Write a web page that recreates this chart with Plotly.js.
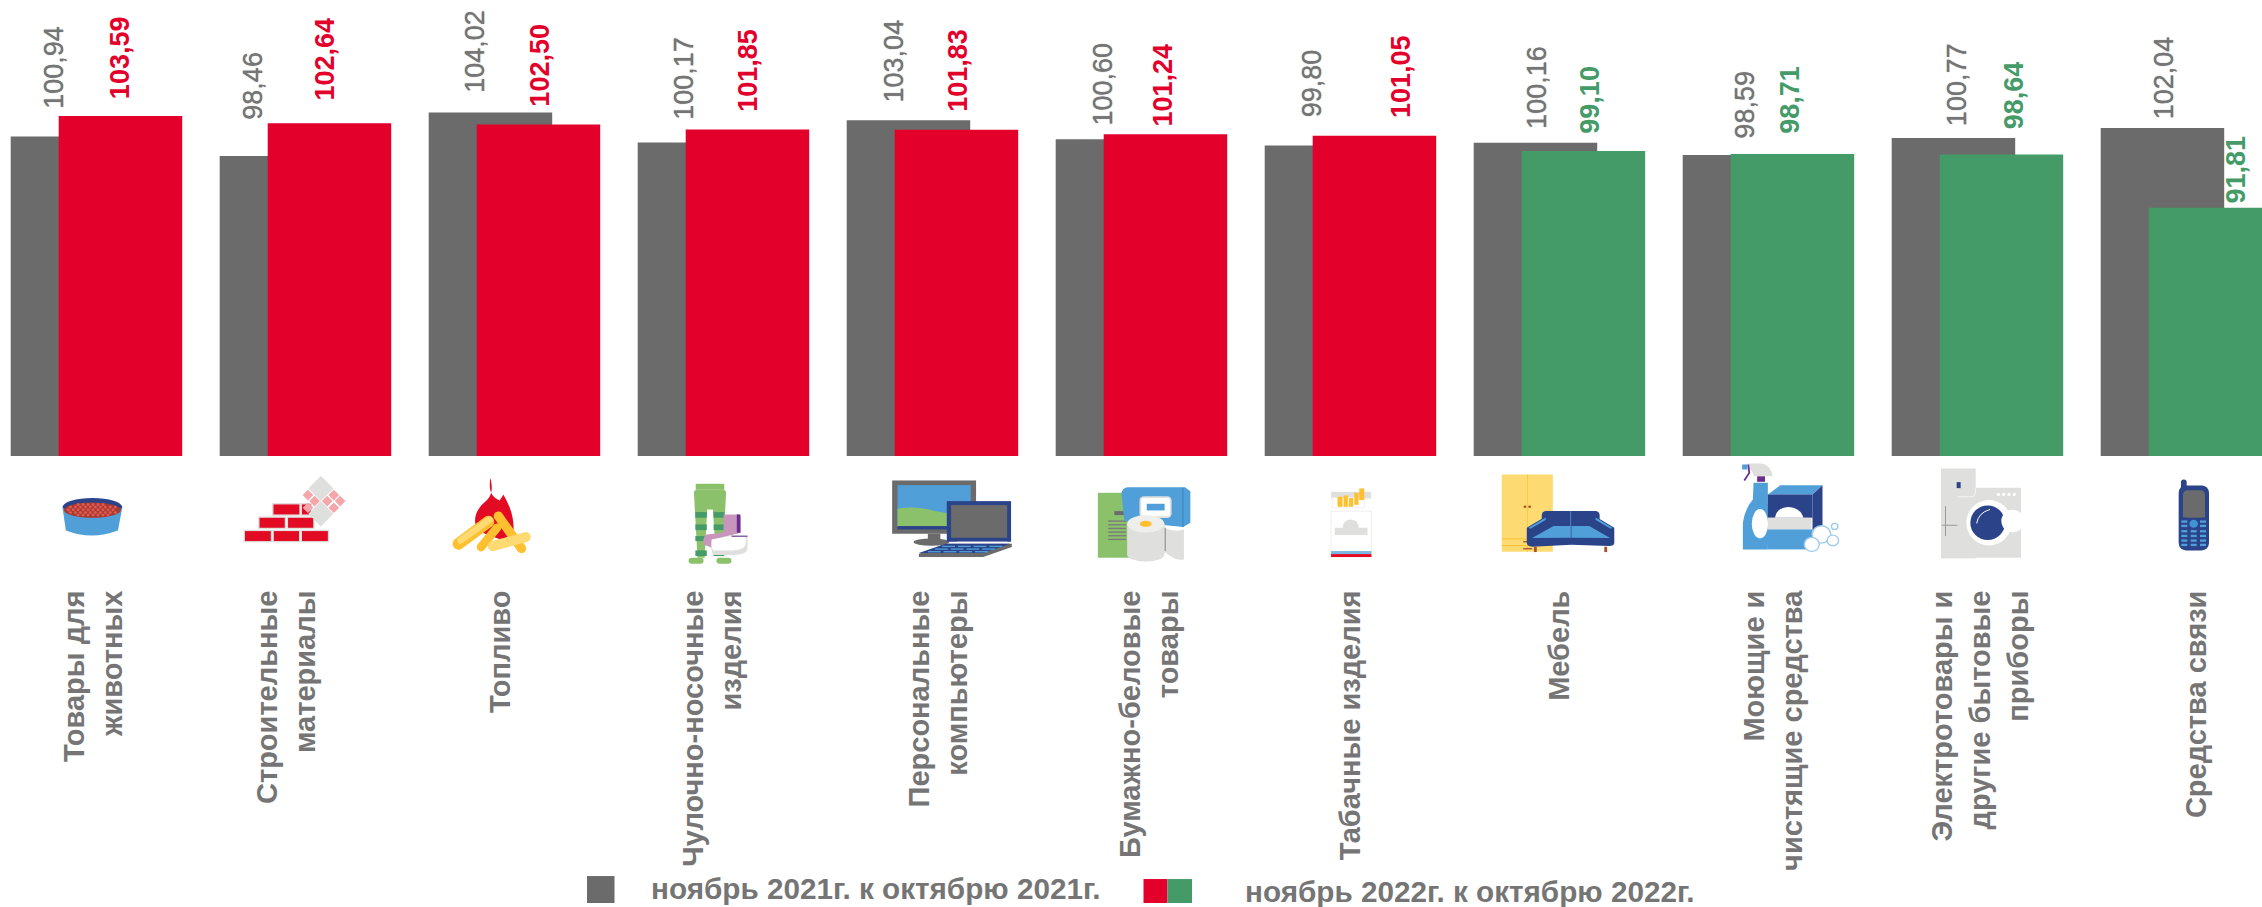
<!DOCTYPE html>
<html><head><meta charset="utf-8">
<script src="https://cdn.plot.ly/plotly-3.0.1.min.js"></script>
<style>html,body{margin:0;padding:0;background:#fff}#c{width:2262px;height:907px}</style>
</head><body><div id="c"></div>
<script>
const categories = ["Товары для<br>животных","Строительные<br>материалы","Топливо","Чулочно-носочные<br>изделия","Персональные<br>компьютеры","Бумажно-беловые<br>товары","Табачные изделия","Мебель","Моющие и<br>чистящие средства","Электротовары и<br>другие бытовые<br>приборы","Средства связи"];
const values2021 = [100.94,98.46,104.02,100.17,103.04,100.60,99.80,100.16,98.59,100.77,102.04];
const values2022 = [103.59,102.64,102.50,101.85,101.83,101.24,101.05,99.10,98.71,98.64,91.81];
const legendGray = "ноябрь 2021г. к октябрю 2021г.";
const legendColor = "ноябрь 2022г. к октябрю 2022г.";

const GRAY='#6b6b6b', RED='#e3002b', GREEN='#459b68', TXT='#757575';
const BLUE='#519fd9', NAVY='#2a4389', LG='#8bc16b', DG='#459b68', SILV='#dfdfdd', YEL='#fec02e', LY='#fddb72', PUR='#6b2d90', PINK='#c896bc';
const W=2262,H=907,BASE=456.5,PITCH=209,CX0=96.7,BARW=123.5;
const xIdx = categories.map((_,i)=>i);
const up = v => v>100;
const colored = values2022.map(v=>up(v)?RED:GREEN);
const fmt = v => v.toFixed(2).replace('.',',');

// label placement (px relative to category centre / bar top)
const grayDx=[-43,-53,-40,-40,-39,-39,-39,-23,-24,-20,-23];
const grayLift=[27,35,19,22,17,13,27,13,15,11,8];
const colDx=[24,19,25,24,25,21,51,30,21,36,49];
const colLift=[16,22,17,17,17,7,17,16,19,24,3];
const catLabelDx=[-3,-19,-14,-11,6,8,0,0,5,3,10];

const traces=[
 {type:'bar',name:legendGray,x:xIdx,y:values2021,width:BARW/PITCH,offset:-86/PITCH,marker:{color:GRAY},hoverinfo:'y'},
 {type:'bar',name:legendColor,x:xIdx,y:values2022,width:BARW/PITCH,offset:-38/PITCH,marker:{color:colored},hoverinfo:'y'}
];
const ann=[];
const lab=(i,v,dx,lift,col,bold)=>ann.push({x:i,y:v,xref:'x',yref:'y',xanchor:'center',yanchor:'bottom',xshift:dx,yshift:lift,showarrow:false,textangle:-90,borderpad:0,
  text:bold?'<b>'+fmt(v)+'</b>':fmt(v),font:{family:'Liberation Sans',size:27,color:col,shadow:bold?'none':'0 0 1px '+col}});
xIdx.forEach(i=>{lab(i,values2021[i],grayDx[i],grayLift[i],TXT,false);lab(i,values2022[i],colDx[i],colLift[i],colored[i],true);});
const px=x=>x/W, py=y=>1-y/BASE;
const legText=(t,x,y)=>ann.push({xref:'paper',yref:'paper',x:px(x),y:py(y),xanchor:'left',yanchor:'middle',showarrow:false,borderpad:0,text:'<b>'+t+'</b>',font:{family:'Liberation Sans',size:29.7,color:TXT}});
legText(legendGray,650,889);
legText(legendColor,1244,892);
const rect=(x0,y0,x1,y1,c)=>({type:'rect',xref:'paper',yref:'paper',x0:px(x0),x1:px(x1),y0:py(y0),y1:py(y1),fillcolor:c,line:{width:0}});
const shapes=[rect(587,877,614.5,904,GRAY),rect(1143.5,880,1167.5,904,RED),rect(1167.5,880,1192,904,GREEN)];

// ---- pictograms under the bars ----
const r=(x,y,w,h,f,e='')=>`<rect x="${x}" y="${y}" width="${w}" height="${h}" fill="${f}" ${e}/>`;
const c=(x,y,rad,f,e='')=>`<circle cx="${x}" cy="${y}" r="${rad}" fill="${f}" ${e}/>`;
const el=(x,y,rx,ry,f)=>`<ellipse cx="${x}" cy="${y}" rx="${rx}" ry="${ry}" fill="${f}"/>`;
const p=(d,f,e='')=>`<path d="${d}" fill="${f}" ${e}/>`;
const ln=(d,col,w,e='')=>`<path d="${d}" fill="none" stroke="${col}" stroke-width="${w}" ${e}/>`;
const dia=(x,y,h,f)=>p(`M${x} ${y-h}L${x+h} ${y}L${x} ${y+h}L${x-h} ${y}Z`,f);

let s1='';
s1+=el(158,128,90,27,NAVY)+p('M68 130L78 198Q155 228 235 198L248 130Q158 175 68 130Z',BLUE)+el(158,137,86,23,'#a83a32');
for(let row=0;row<5;row++)for(let k=0;k<10;k++){const x=85+k*15+(row%2)*7, y=120+row*8; if(Math.abs(x-158)/80+Math.abs(y-137)/24<1.25) s1+=c(x,y,4.5,'#e05a50');}
[[702,118,82],[788,118,30],[660,158,80],[746,158,80],[616,198,82],[703,198,80],[788,198,82]].forEach(b=>s1+=r(b[0],b[1],b[2],34,'#e30a23',`stroke="${SILV}" stroke-width="4"`));
s1+=dia(847,72,38,SILV)+dia(847,148,38,SILV);
[[808,92],[828,110],[808,130],[886,92],[905,110],[866,110],[886,130]].forEach(d=>s1+=dia(d[0],d[1],16,'#f4a6aa'));
s1+=p('M1358 40C1350 90 1370 100 1385 108C1392 100 1395 95 1397 90C1420 130 1432 165 1427 210L1415 235L1320 200C1300 160 1320 130 1345 110C1365 90 1365 70 1358 40Z','#e30a23');
s1+=ln('M1330 248L1378 190',YEL,26,'stroke-linecap="round"')+ln('M1382 155L1452 252',YEL,28,'stroke-linecap="round"');
s1+=ln('M1262 238L1352 172',YEL,36,'stroke-linecap="round"')+ln('M1268 228L1355 166',LY,20,'stroke-linecap="round"');
s1+=ln('M1365 245L1465 218',LY,30,'stroke-linecap="round"');

let s2='';
s2+=r(100,58,80,18,LG)+p('M95 85Q95 76 105 76H175Q185 76 185 85L176 275H157L148 135H132L125 280H105Z',LG);
[[143,17],[180,17],[215,15],[258,17]].forEach(t=>{s2+=r(99,t[0],32,t[1],DG)+r(150,t[0],30,t[1],DG);});
s2+=r(80,280,42,18,LG,'rx="9"')+r(158,280,42,18,LG,'rx="9"');
s2+=p('M178 150H220Q226 150 226 158V205L150 225L145 250L122 240Q118 220 130 210L178 205Z',PINK)+r(215,150,10,55,PUR);
s2+=p('M145 225L200 212H245V255Q240 272 200 272H150Q140 260 145 225Z',SILV)+p('M145 225L200 215H240V240Q235 258 200 258H150Q142 250 145 225Z','#fff')+r(200,214,45,3,PUR);
s2+=r(650,48,235,160,GRAY)+r(665,62,205,125,BLUE)+p('M665 133Q720 122 770 140Q820 152 870 156V187H665Z',LG)+r(665,185,205,10,NAVY)+r(750,208,35,25,GRAY)+el(760,233,50,11,GRAY);
s2+=r(803,110,180,122,NAVY)+r(815,122,157,98,GRAY)+r(832,232,140,5,'#fff');
s2+=p('M725 268L800 238H985V248L905 278H725Z',GRAY)+p('M725 266L800 238H980L905 266Z',NAVY);
[244,252,260].forEach((y,k)=>{for(let j=0;j<4;j++)s2+=r(790-k*20+j*44,y,36,4,BLUE);});
s2+=r(1226,85,110,195,LG)+r(1272,140,30,12,GRAY);
for(let k=0;k<6;k++)s2+=r(1255,168+k*11,50,4,'#7a7a7a');
s2+=p('M1292 85Q1295 70 1310 68H1470L1485 80V175L1465 188L1300 170Z',BLUE)+r(1463,70,3,118,'#3f86c0');
s2+=r(1345,98,85,60,'#fff',`rx="10" stroke="${SILV}" stroke-width="5"`)+r(1363,118,50,20,BLUE);
s2+=p('M1413 190Q1440 205 1467 195V285Q1440 290 1413 262Z',SILV)+r(1308,178,105,92,SILV)+el(1360,270,52,22,SILV)+el(1360,178,52,26,'#eeeeec')+el(1360,178,17,9,YEL)+r(1413,190,3,70,'#888');

let s3='';
s3+=r(87,97,112,20,SILV)+r(90,115,90,30,'#fff',`stroke="#eee" stroke-width="2"`)+r(166,87,14,35,YEL)+r(105,112,14,30,YEL)+r(122,108,12,34,YEL)+r(137,116,12,26,YEL)+r(152,100,12,36,YEL);
s3+=r(87,155,113,125,'#fff','stroke="#eee" stroke-width="3"')+c(142,202,22,SILV)+r(97,205,92,22,SILV)+r(87,275,113,10,'#7ab8e3')+r(87,284,113,9,'#e30a23');
s3+=r(565,45,143,232,LY)+r(636,45,2,232,YEL)+c(630,142,4,'#a8542a')+c(643,142,4,'#a8542a')+r(565,237,143,3,YEL)+r(565,257,143,3,YEL)+r(625,245,25,4,'#a8542a')+r(625,266,25,4,'#a8542a');
s3+=r(677,155,162,40,NAVY,'rx="12"')+p('M635 205L690 170H825L880 205V250Q880 260 865 260L760 256L650 262Q635 260 635 250Z',NAVY)+p('M650 236L710 200H757V235Z',BLUE)+p('M760 200H810L868 236L760 235Z',BLUE)+p('M640 205L688 174V182L645 208Z',BLUE)+p('M875 205L828 174V182L870 208Z',BLUE)+r(757,155,2,80,BLUE)+r(655,262,8,16,'#a8542a')+r(852,262,8,16,'#a8542a');
s3+=p('M1270 70H1310V130Q1312 150 1310 270H1240V190Q1245 150 1268 120Z',BLUE)+el(1288,193,23,44,'#fff')+r(1280,50,22,17,PUR)+p('M1255 12H1295Q1320 20 1323 50H1270Q1268 30 1255 30Z',SILV)+ln('M1255 15L1258 40L1244 63',PUR,5)+r(1238,15,15,15,BLUE);
s3+=p('M1310 105L1345 77H1463L1435 105Z',BLUE)+p('M1435 105L1463 77V205L1435 230Z',NAVY)+r(1310,105,125,70,NAVY)+p('M1330 175Q1335 145 1365 143Q1400 143 1410 175Z','#fff')+r(1310,175,122,35,SILV)+r(1310,210,125,60,BLUE);
[[1460,225,26],[1433,255,21],[1492,243,16],[1497,201,9]].forEach(b=>s3+=c(b[0],b[1],b[2],'#fff','stroke="#9fcbea" stroke-width="4"'));

let s4='';
s4+=r(123,27,104,270,SILV)+r(175,85,188,210,SILV)+ln('M172 112H215Q226 112 226 100V85','#fff',2)+r(135,140,3,90,'#999')+r(125,196,47,3,'#999')+r(170,68,12,18,NAVY);
s4+=c(267,190,68,'#fff')+c(263,190,52,NAVY)+c(338,185,34,'#fff')+ln('M230 192Q235 160 270 150','#fff',3);
[295,311,327,343].forEach(x=>s4+=c(x,105,5,'#fff'));
s4+=r(843,60,17,40,NAVY,'rx="8"')+r(836,78,91,195,NAVY,'rx="22"')+r(849,92,66,82,GRAY,'rx="14"')+r(849,150,66,24,GRAY)+el(881,193,13,12,'#3f93d3');
[183,196].forEach(y=>{s4+=r(844,y,18,7,BLUE)+r(900,y,18,7,BLUE);});
[212,226,240,253].forEach(y=>{[844,872,900].forEach(x=>s4+=r(x,y,18,7,BLUE));});

const strip=(inner,vw,vh,x,y,w,h)=>({
  source:'data:image/svg+xml;charset=utf-8,'+encodeURIComponent(`<svg xmlns="http://www.w3.org/2000/svg" width="${w*2}" height="${h*2}" viewBox="0 0 ${vw} ${vh}" preserveAspectRatio="none">${inner}</svg>`),
  xref:'paper',yref:'paper',x:px(x),y:py(y),sizex:w/W,sizey:h/BASE,sizing:'stretch',xanchor:'left',yanchor:'top',layer:'above'});
const images=[strip(s1,1568,360,40,465,520,120),strip(s2,1568,360,660,465,560,120),strip(s3,1568,390,1300,460,560,130),strip(s4,1086,390,1900,460,362,130)];

Plotly.newPlot('c',traces,{
 width:W,height:H,autosize:false,barmode:'overlay',showlegend:false,
 margin:{l:0,r:0,t:0,b:H-BASE,pad:0},paper_bgcolor:'#fff',plot_bgcolor:'#fff',
 xaxis:{range:[-CX0/PITCH,(W-CX0)/PITCH],tickmode:'array',tickvals:xIdx.map(i=>i+catLabelDx[i]/PITCH),ticktext:categories,tickangle:-90,ticks:'outside',ticklen:122,tickcolor:'rgba(0,0,0,0)',tickwidth:0,showgrid:false,zeroline:false,showline:false,tickfont:{family:'Liberation Sans',size:29,color:TXT,weight:'bold'},automargin:false,fixedrange:true},
 yaxis:{range:[60,60+BASE/7.81],visible:false,fixedrange:true,automargin:false},
 annotations:ann,shapes:shapes,images:images
},{displayModeBar:false,responsive:false});
</script></body></html>
